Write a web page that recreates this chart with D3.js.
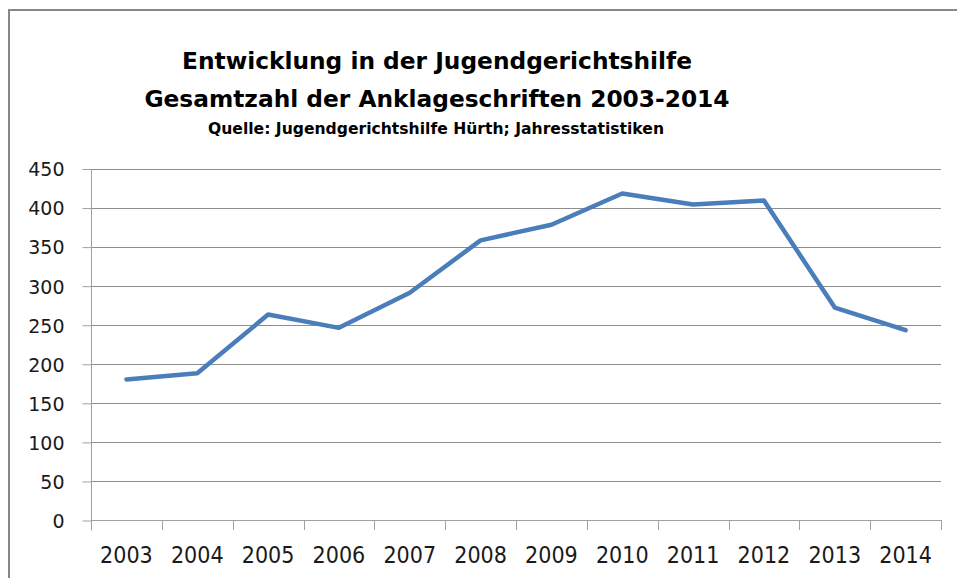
<!DOCTYPE html>
<meta charset="utf-8">
<head>
<script src="https://d3js.org/d3.v7.min.js"></script>
<style>
body { margin: 0; background: #fff; }
.title { font-family: "DejaVu Sans", sans-serif; font-weight: bold; fill: #000; }
.ylab text { font-family: "DejaVu Sans", sans-serif; font-size: 19px; fill: #1a1a1a; }
.xlab text { font-family: "DejaVu Sans Condensed", "DejaVu Sans", sans-serif; font-stretch: condensed; font-size: 23px; fill: #1a1a1a; }
</style>
</head>
<body>
<script>
    // chart data
    years = ["2003", "2004", "2005", "2006", "2007", "2008", "2009", "2010", "2011", "2012", "2013", "2014"]
    counts = [180, 188, 263, 246, 291, 358, 378, 418, 404, 409, 272, 243]
    yTicks = [0, 50, 100, 150, 200, 250, 300, 350, 400, 450]

    width = 957
    height = 578
    margin = ({top: 168.5, right: 16, bottom: 58, left: 91})

    var svg = d3.select("body").append("svg")
      .attr("width", width)
      .attr("height", height)
      .attr("viewBox", [0, 0, width, height])

    // outer frame (left + top edge only visible)
    svg.append("path")
      .attr("d", `M9,${height} V10 H${width}`)
      .attr("fill", "none")
      .attr("stroke", "#878787")
      .attr("stroke-width", 2)

    x = d3.scaleBand()
      .domain(years)
      .range([margin.left, width - margin.right])

    y = d3.scaleLinear()
      .domain([0, 450])
      .range([height - margin.bottom, margin.top])

    // titles
    svg.append("text").attr("class", "title")
      .attr("x", 437).attr("y", 69)
      .attr("text-anchor", "middle")
      .attr("font-size", 23.3)
      .text("Entwicklung in der Jugendgerichtshilfe")
    svg.append("text").attr("class", "title")
      .attr("x", 437).attr("y", 107)
      .attr("text-anchor", "middle")
      .attr("font-size", 23.3)
      .text("Gesamtzahl der Anklageschriften 2003-2014")
    svg.append("text").attr("class", "title")
      .attr("x", 436).attr("y", 134)
      .attr("text-anchor", "middle")
      .attr("font-size", 15.6)
      .text("Quelle: Jugendgerichtshilfe Hürth; Jahresstatistiken")

    // horizontal gridlines
    svg.append("g")
      .attr("stroke", "#8e8e8e")
      .attr("stroke-width", 1)
      .selectAll("line")
      .data(yTicks.filter(d => d > 0))
      .join("line")
        .attr("x1", margin.left)
        .attr("x2", width - margin.right)
        .attr("y1", d => Math.round(y(d)) + 0.5)
        .attr("y2", d => Math.round(y(d)) + 0.5)

    // y axis
    svg.append("g")
      .attr("class", "ylab")
      .attr("transform", `translate(${margin.left + 0.5},0.5)`)
      .call(d3.axisLeft(y).tickValues(yTicks).tickSize(9).tickPadding(18).tickFormat(d3.format("d")))
      .call(g => g.select(".domain")
        .attr("d", `M0,${Math.round(y(450))}V${height - margin.bottom + 10}`)
        .attr("stroke", "#a0a0a0"))
      .call(g => g.selectAll(".tick line").attr("stroke", "#a0a0a0"))
      .call(g => g.selectAll(".tick text").attr("dy", "0.36em"))

    // x axis: labels centred in bands, ticks on band edges
    svg.append("g")
      .attr("class", "xlab")
      .attr("transform", `translate(0,${height - margin.bottom + 0.5})`)
      .call(d3.axisBottom(x).tickSize(0))
      .call(g => g.select(".domain")
        .attr("d", `M${margin.left},0H${width - margin.right}`)
        .attr("stroke", "#a0a0a0"))
      .call(g => g.selectAll(".tick text").attr("y", 42.5).attr("dy", 0))

    svg.append("g")
      .attr("stroke", "#a0a0a0")
      .selectAll("line")
      .data(years.slice(1).map(d => x(d)).concat([x.range()[1]]))
      .join("line")
        .attr("x1", d => Math.round(d) + 0.5)
        .attr("x2", d => Math.round(d) + 0.5)
        .attr("y1", height - margin.bottom)
        .attr("y2", height - margin.bottom + 10)

    // the series
    line = d3.line()
      .x((d, i) => x(years[i]) + x.bandwidth() / 2)
      .y(d => y(d))

    svg.append("path")
      .datum(counts)
      .attr("fill", "none")
      .attr("stroke", "#4a7ebb")
      .attr("stroke-width", 4.5)
      .attr("stroke-linejoin", "round")
      .attr("stroke-linecap", "round")
      .attr("d", line)
</script>
</body>
